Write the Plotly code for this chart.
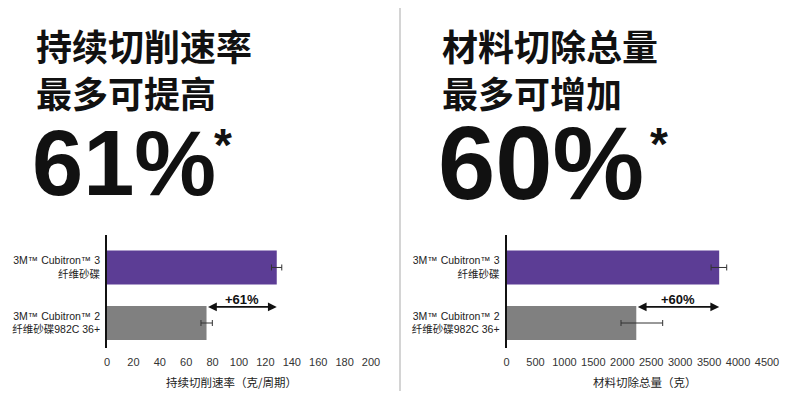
import plotly.graph_objects as go

# The page body keeps an 8 px margin, so the figure is drawn 8 px in from the
# top-left corner; size it to fit inside the 800x399 window.
OFF = 8
W, H = 800 - 2 * OFF, 399 - 2 * OFF

# ---------------- data ----------------
categories = ["3M™ Cubitron™ 2<br>纤维砂碟982C 36+", "3M™ Cubitron™ 3<br>纤维砂碟"]

rate_values = [75.4, 128.6]          # 持续切削速率 (克/周期)
rate_err_plus = [4.4, 3.8]
rate_err_minus = [4.2, 4.0]
rate_ticks = [0, 20, 40, 60, 80, 100, 120, 140, 160, 180, 200]

total_values = [2242, 3674]          # 材料切除总量 (克)
total_err_plus = [456, 130]
total_err_minus = [264, 140]
total_ticks = [0, 500, 1000, 1500, 2000, 2500, 3000, 3500, 4000, 4500]

left_title = "持续切削速率<br>最多可提高"
left_big = "61%"
left_gain = "+61%"
left_axis_title = "持续切削速率（克/周期）"

right_title = "材料切除总量<br>最多可增加"
right_big = "60%"
right_gain = "+60%"
right_axis_title = "材料切除总量（克）"

bar_colors = ["#808080", "#5c3d95"]

# ---------------- helpers (screen pixels -> paper fractions) ----------------
def px(x):
    return (x - OFF) / W

def py(y):
    return 1 - (y - OFF) / H

LAT = "Liberation Sans, Arial, Noto Sans CJK SC, sans-serif"
CJK = "Noto Sans CJK SC, sans-serif"

fig = go.Figure()

fig.add_trace(go.Bar(
    x=rate_values, y=categories, orientation="h",
    marker=dict(color=bar_colors, line=dict(width=0)),
    width=0.61,
    error_x=dict(type="data", array=rate_err_plus, arrayminus=rate_err_minus,
                 color="#333333", thickness=1, width=3),
    xaxis="x", yaxis="y", showlegend=False, hoverinfo="skip",
))
fig.add_trace(go.Bar(
    x=total_values, y=categories, orientation="h",
    marker=dict(color=bar_colors, line=dict(width=0)),
    width=0.61,
    error_x=dict(type="data", array=total_err_plus, arrayminus=total_err_minus,
                 color="#333333", thickness=1, width=3),
    xaxis="x2", yaxis="y2", showlegend=False, hoverinfo="skip",
))

ydom = [py(348), py(235)]
yrange = [-0.45, 1.585]

xaxis_common = dict(showgrid=False, zeroline=False, showline=False, ticks="",
                    tickfont=dict(family=LAT, size=11, color="#333333"),
                    ticklabelstandoff=6, fixedrange=True, automargin=False)
yaxis_common = dict(showgrid=False, zeroline=False, showline=True,
                    linecolor="#111111", linewidth=1.6, ticks="",
                    tickfont=dict(family=LAT, size=10.5, color="#222222"),
                    ticklabelstandoff=3, range=yrange, domain=ydom,
                    type="category", categoryorder="array",
                    categoryarray=categories, fixedrange=True, automargin=False)

fig.update_layout(
    template="none",
    width=W, height=H,
    margin=dict(l=0, r=0, t=0, b=0, autoexpand=False),
    paper_bgcolor="white", plot_bgcolor="white",
    xaxis=dict(domain=[px(107), px(371)], range=[0, 200], tickvals=rate_ticks,
               anchor="y", **xaxis_common),
    yaxis=dict(anchor="x", **yaxis_common),
    xaxis2=dict(domain=[px(506.5), px(767)], range=[0, 4500], tickvals=total_ticks,
                anchor="y2", **xaxis_common),
    yaxis2=dict(anchor="x2", **yaxis_common),
    bargap=0.4,
)

# separator line
fig.add_shape(type="line", xref="paper", yref="paper", x0=px(400), x1=px(400),
              y0=-0.05, y1=1.05, line=dict(color="#d4d4d4", width=2))

ann = []
for (xl, title, big, bigsize, bigx, star) in [
        (34, left_title, left_big, 92, 30, (223, 145)),
        (440, right_title, right_big, 103, 436, (659, 144))]:
    ann.append(dict(text=title, x=px(xl), y=py(68.5), xref="paper", yref="paper",
                    xanchor="left", yanchor="middle", showarrow=False, align="left",
                    font=dict(family=CJK, size=36, color="#111111", weight="bold")))
    ann.append(dict(text=big, x=px(bigx), y=py(163), xref="paper", yref="paper",
                    xanchor="left", yanchor="middle", showarrow=False,
                    font=dict(family=LAT, size=bigsize, color="#111111", weight="bold")))
    ann.append(dict(text="*", x=px(star[0]), y=py(star[1]), xref="paper", yref="paper",
                    xanchor="center", yanchor="middle", showarrow=False,
                    font=dict(family=LAT, size=46, color="#111111", weight="bold")))

# double arrows and gain labels, from data
for (xr, yr, vals, gain) in [("x", "y", rate_values, left_gain),
                             ("x2", "y2", total_values, right_gain)]:
    ann.append(dict(x=vals[1], y=0.29, ax=vals[0], ay=0.29, xref=xr, yref=yr,
                    axref=xr, ayref=yr, text="", showarrow=True,
                    arrowhead=2, startarrowhead=2, arrowside="end+start",
                    arrowsize=1.1, startarrowsize=1.1, arrowwidth=1.6,
                    arrowcolor="#111111", standoff=0, startstandoff=0))
    ann.append(dict(x=(vals[0] + vals[1]) / 2, y=0.43, xref=xr, yref=yr,
                    text=gain, showarrow=False, xanchor="center", yanchor="middle",
                    font=dict(family=LAT, size=13, color="#111111", weight="bold")))

ann.append(dict(text=left_axis_title, x=px(231), y=py(382), xref="paper", yref="paper",
                xanchor="center", yanchor="middle", showarrow=False,
                font=dict(family=CJK, size=11.5, color="#222222")))
ann.append(dict(text=right_axis_title, x=px(645), y=py(382), xref="paper", yref="paper",
                xanchor="center", yanchor="middle", showarrow=False,
                font=dict(family=CJK, size=11.5, color="#222222")))

fig.update_layout(annotations=ann)
fig.write_html("out.html")
